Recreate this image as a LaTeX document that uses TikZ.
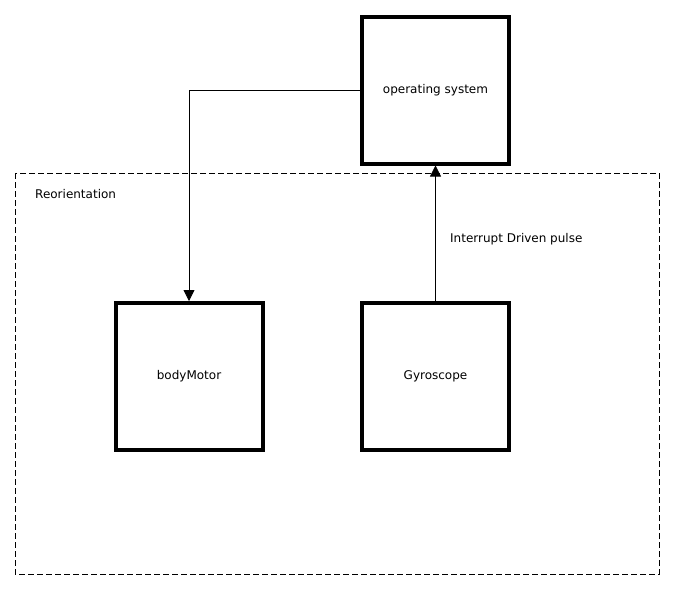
\documentclass[tikz,border=0pt]{standalone}
\usepackage{fontspec}
\setmainfont{DejaVu Sans}
\usetikzlibrary{arrows.meta}

\begin{document}
\begin{tikzpicture}[x=1pt, y=-1pt, font=\fontsize{12}{14}\selectfont,
	block/.style={draw, line width=4pt, minimum width=147pt, minimum height=147pt, inner sep=0pt},
	flow/.style={-{Triangle[length=11pt, width=11pt]}, line width=0.8pt}]
	\useasboundingbox (0,0) rectangle (675,590);
	% group frame
	\draw[dash pattern=on 6pt off 3pt, line width=0.8pt] (15,173) rectangle (659,574);
	\node[anchor=west, inner sep=0pt] (group) at (35,194) {Reorientation};
	% components
	\node[block] (os) at (435.5,90) {operating system};
	\node[block] (motor) at (189,376.5) {bodyMotor};
	\node[block] (gyro) at (435.5,376.5) {Gyroscope};
	% connections
	\draw[flow] (os.west) -| (motor.north);
	\draw[flow] (gyro.north) -- (os.south);
	\node[anchor=west, inner sep=0pt] (pulse) at (450,239) {Interrupt Driven pulse};
\end{tikzpicture}
\end{document}
